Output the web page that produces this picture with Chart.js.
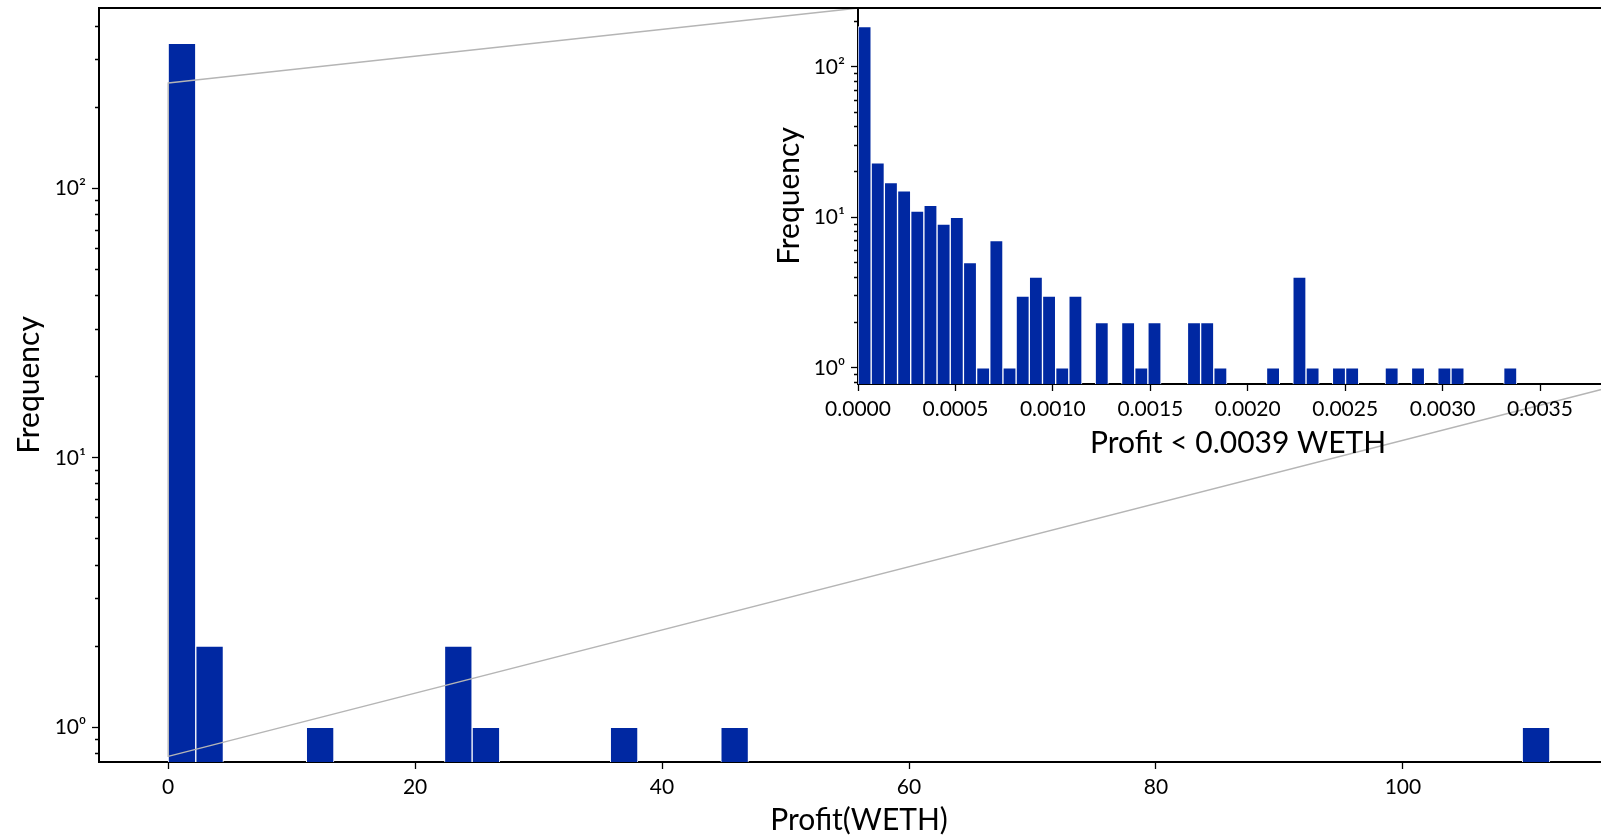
<!DOCTYPE html>
<html>
<head>
<meta charset="utf-8">
<script src="https://cdn.jsdelivr.net/npm/chart.js@4"></script>
<style>
  html, body { margin: 0; padding: 0; background: #fff; overflow: hidden; }
  #wrap { position: relative; width: 1601px; height: 837px; overflow: hidden; }
  #main { position: absolute; left: 0; top: 0; }
  #inset { position: absolute; left: 740px; top: 0; }
</style>
</head>
<body>
<div id="wrap">
  <canvas id="main" width="1640" height="837"></canvas>
  <canvas id="inset" width="900" height="470"></canvas>
</div>
<script>
// main histogram: 50 bins from 0 to the max profit, only the non-empty bins
const mainBinWidth = 2.238;
const mainBins = [0, 1, 5, 10, 11, 16, 20, 49];
const mainCounts = [345, 2, 1, 2, 1, 1, 1, 1];
const mainXTicks = [0, 20, 40, 60, 80, 100];
const mainXRange = [-5.6, 117.5];
const mainYRange = [0.743, 467];

// inset: profits below 0.0039 WETH, also 50 bins
const insetBinWidth = 0.00006762;
const insetBins = [0, 1, 2, 3, 4, 5, 6, 7, 8, 9, 10, 11, 12, 13, 14, 15, 16, 18, 20, 21, 22,
  25, 26, 27, 31, 33, 34, 36, 37, 40, 42, 44, 45, 49];
const insetCounts = [185, 23, 17, 15, 11, 12, 9, 10, 5, 1, 7, 1, 3, 4, 3, 1, 3, 2, 2, 1, 2,
  2, 2, 1, 1, 4, 1, 1, 1, 1, 1, 1, 1, 1];
const insetXTicks = [0, 0.0005, 0.001, 0.0015, 0.002, 0.0025, 0.003, 0.0035];
const insetXRange = [0, 0.0039];
const insetYRange = [0.78, 246];

const logMajor = [1, 10, 100];
const logMinor = [0.8, 0.9, 2, 3, 4, 5, 6, 7, 8, 9, 20, 30, 40, 50, 60, 70, 80, 90, 200, 300, 400];
const logLabels = { 1: '10⁰', 10: '10¹', 100: '10²' };

const BLUE = '#0028a2';
const FONT = 'Lato, "Open Sans", sans-serif';

const histData = (bins, counts, w) => bins.map((b, i) => ({ x: (b + 0.5) * w, y: counts[i] }));

const logAxis = (range, width, titlePad) => ({
  type: 'logarithmic',
  min: range[0],
  max: range[1],
  afterBuildTicks: s => {
    // chart.js rounds the log min, put the exact limits back
    s.min = range[0];
    s.max = range[1];
    s.ticks = logMajor.concat(logMinor)
      .filter(v => v > range[0] && v < range[1])
      .sort((a, b) => a - b)
      .map(v => ({ value: v, major: logMajor.includes(v) }));
  },
  afterFit: s => {
    s.width = width;
    s.paddingTop = 0;
    s.paddingBottom = 0;
  },
  ticks: {
    autoSkip: false, color: '#000', padding: 6,
    font: { family: FONT, size: 21 },
    callback: v => logLabels[v] || ''
  },
  grid: {
    drawOnChartArea: false, tickLength: 7, tickColor: '#000', tickWidth: 1.3,
    tickBorderDash: c => (c.tick && c.tick.major) ? [] : [0, 3, 4, 100]
  },
  border: { color: '#000', width: 2 },
  title: {
    display: true, text: 'Frequency', color: '#000',
    font: { family: FONT, size: 30 }, padding: { top: titlePad, bottom: 0 }
  }
});

const linAxis = (range, ticks, title, height, titlePad, fmt) => ({
  type: 'linear',
  min: range[0],
  max: range[1],
  offset: false,
  afterBuildTicks: s => {
    s.min = range[0];
    s.max = range[1];
    s.ticks = ticks.map(v => ({ value: v }));
  },
  afterFit: s => {
    s.height = height;
    s.paddingLeft = 0;
    s.paddingRight = 0;
  },
  ticks: {
    autoSkip: false, maxRotation: 0, color: '#000', padding: 6,
    font: { family: FONT, size: 21 },
    callback: fmt
  },
  grid: { offset: false, drawOnChartArea: false, tickLength: 7, tickColor: '#000', tickWidth: 1.3 },
  border: { color: '#000', width: 2 },
  title: {
    display: true, text: title, color: '#000',
    font: { family: FONT, size: 30, lineHeight: 1.1 }, padding: { top: 0, bottom: titlePad }
  }
});

const barSet = data => ({
  data: data,
  backgroundColor: BLUE,
  borderColor: '#fff',
  borderWidth: 1,
  barPercentage: 1,
  categoryPercentage: 1
});

// zoom box + connector lines (mark_inset style), plus top spine
const zoomMarks = {
  id: 'zoomMarks',
  afterDatasetsDraw(chart) {
    const { ctx, chartArea: a, scales: { x, y } } = chart;
    const x0 = x.getPixelForValue(insetXRange[0]);
    const x1 = x.getPixelForValue(insetXRange[1]);
    const y0 = y.getPixelForValue(insetYRange[1]);
    const y1 = y.getPixelForValue(insetYRange[0]);
    ctx.save();
    ctx.strokeStyle = '#b5b5b5';
    ctx.lineWidth = 1.3;
    ctx.strokeRect(x0, y0, x1 - x0, y1 - y0);
    ctx.beginPath();
    ctx.moveTo(x0, y0);
    ctx.lineTo(a.left + a.width / 2, a.top);
    ctx.moveTo(x1, y1);
    ctx.lineTo(a.right, a.top + a.height / 2);
    ctx.stroke();
    ctx.strokeStyle = '#000';
    ctx.lineWidth = 2;
    ctx.beginPath();
    ctx.moveTo(a.left - 1, a.top);
    ctx.lineTo(a.right, a.top);
    ctx.stroke();
    ctx.restore();
  }
};

const insetFrame = {
  id: 'insetFrame',
  beforeDraw(chart) {
    const { ctx, chartArea: a } = chart;
    ctx.save();
    ctx.fillStyle = '#fff';
    ctx.fillRect(a.left, a.top, a.width, a.height);
    ctx.restore();
  },
  afterDraw(chart) {
    const { ctx, chartArea: a } = chart;
    ctx.save();
    ctx.strokeStyle = '#000';
    ctx.lineWidth = 2;
    ctx.beginPath();
    ctx.moveTo(a.left - 1, a.top);
    ctx.lineTo(a.right, a.top);
    ctx.stroke();
    ctx.restore();
  }
};

const common = {
  responsive: false,
  animation: false,
  plugins: { legend: { display: false }, tooltip: { enabled: false } }
};

new Chart(document.getElementById('main'), {
  type: 'bar',
  data: { datasets: [barSet(histData(mainBins, mainCounts, mainBinWidth))] },
  options: {
    ...common,
    layout: { padding: { top: 8, right: 21, left: 0, bottom: 0 } },
    scales: {
      x: linAxis(mainXRange, mainXTicks, 'Profit(WETH)', 75, 0, v => String(v)),
      y: logAxis(mainYRange, 99, 11)
    }
  },
  plugins: [zoomMarks]
});

new Chart(document.getElementById('inset'), {
  type: 'bar',
  data: { datasets: [barSet(histData(insetBins, insetCounts, insetBinWidth))] },
  options: {
    ...common,
    layout: { padding: { top: 8, right: 22, left: 0, bottom: 0 } },
    scales: {
      x: linAxis(insetXRange, insetXTicks, 'Profit < 0.0039 WETH', 86, 10, v => v.toFixed(4)),
      y: logAxis(insetYRange, 118, 31)
    }
  },
  plugins: [insetFrame]
});
</script>
</body>
</html>
